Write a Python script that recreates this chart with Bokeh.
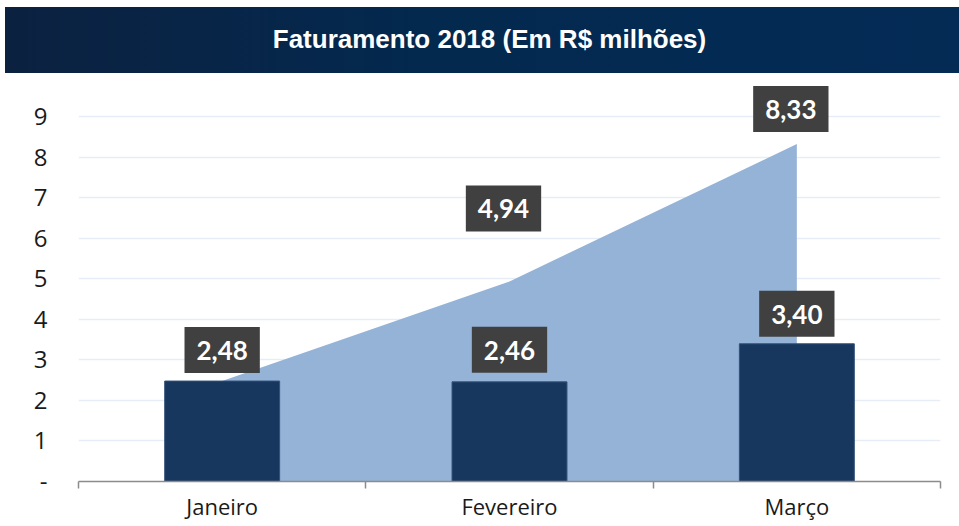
import numpy as np
from bokeh.plotting import figure
from bokeh.models import Range1d, FixedTicker, Label, Div
from bokeh.layouts import column
from bokeh.embed import file_html
from bokeh.resources import INLINE

# ---- data ----
title_text = "Faturamento 2018 (Em R$ milhões)"
months = ["Janeiro", "Fevereiro", "Março"]
monthly = [2.48, 2.46, 3.40]
cumulative = [2.48, 4.94, 8.33]
y_ticks = [0, 1, 2, 3, 4, 5, 6, 7, 8, 9]
y_tick_labels = ["-", "1", "2", "3", "4", "5", "6", "7", "8", "9"]

# ---- label placement (pixels, presentation only) ----
bar_label_dy = [8, 9, 7]
cum_label_dy = [None, 50, 12]
cum_label_dx = [0, -6, -6]


def fmt(v):
    return f"{v:.2f}".replace(".", ",")


BAR = "#17375e"
AREA = "#95b3d7"
BOX = "#404040"
GRID = "#e6edf7"
AXIS = "#8c8c8c"
TXT = "#1a1a1a"
W = 954

header = Div(
    text=(
        f'<div style="width:{W}px;height:66px;display:flex;align-items:center;box-sizing:border-box;'
        'padding-left:15px;'
        'justify-content:center;background:linear-gradient(to right,#0c2140,#03294f 45%,#042b55);'
        'color:white;font-family:\'Liberation Sans\',Arial,sans-serif;font-weight:bold;'
        f'font-size:26px;">{title_text}</div>'
    ),
    width=W,
    height=66,
    margin=0,
)

x = np.arange(len(months)) + 0.5

p = figure(
    width=W,
    height=453,
    x_range=Range1d(0, len(months)),
    y_range=Range1d(0, 9.9),
    output_backend="svg",
    toolbar_location=None,
    min_border_left=73,
    min_border_right=19,
    min_border_top=7,
    min_border_bottom=45,
    margin=0,
)
p.outline_line_color = None
p.background_fill_color = "white"

# cumulative area behind bars
p.varea(x=x, y1=np.zeros(len(x)), y2=cumulative, fill_color=AREA, fill_alpha=1.0)

# monthly bars
p.vbar(x=x, top=monthly, width=0.4, fill_color=BAR, line_color="#34527a", line_width=1)

# grid
p.xgrid.visible = False
p.ygrid.ticker = FixedTicker(ticks=y_ticks[1:])
p.ygrid.grid_line_color = GRID
p.ygrid.grid_line_width = 1.5

# y axis
ya = p.yaxis[0]
ya.ticker = FixedTicker(ticks=y_ticks)
ya.major_label_overrides = {t: l for t, l in zip(y_ticks, y_tick_labels)}
ya.axis_line_color = None
ya.major_tick_line_color = None
ya.minor_tick_line_color = None
ya.major_tick_out = 0
ya.major_label_standoff = 31
ya.major_label_text_font = "Open Sans"
ya.major_label_text_font_size = "24px"
ya.major_label_text_color = TXT

# x axis: labels at centres, ticks at boundaries
xa = p.xaxis[0]
xa.ticker = FixedTicker(ticks=list(x), minor_ticks=list(range(len(months) + 1)))
xa.major_label_overrides = {float(v): m for v, m in zip(x, months)}
xa.axis_line_color = AXIS
xa.axis_line_width = 1.5
xa.major_tick_line_color = None
xa.major_tick_out = 0
xa.major_tick_in = 0
xa.minor_tick_line_color = AXIS
xa.minor_tick_line_width = 1.5
xa.minor_tick_out = 7
xa.minor_tick_in = 0
xa.major_label_standoff = 2
xa.major_label_text_font = "Open Sans"
xa.major_label_text_font_size = "22px"
xa.major_label_text_color = TXT

label_style = dict(
    text_align="center",
    text_baseline="bottom",
    text_color="white",
    text_font="Lato",
    text_font_style="bold",
    text_font_size="26px",
    background_fill_color=BOX,
    padding=(12, 12, 14, 13),
)

for i, v in enumerate(monthly):
    p.add_layout(Label(x=x[i], y=v, text=fmt(v), y_offset=bar_label_dy[i], **label_style))

for i, v in enumerate(cumulative):
    if cum_label_dy[i] is None:
        continue
    p.add_layout(Label(x=x[i], y=v, text=fmt(v), x_offset=cum_label_dx[i],
                       y_offset=cum_label_dy[i], **label_style))

layout = column(header, p, spacing=0, margin=(7, 0, 0, 5))

open("out.html", "w").write(file_html(layout, INLINE))
